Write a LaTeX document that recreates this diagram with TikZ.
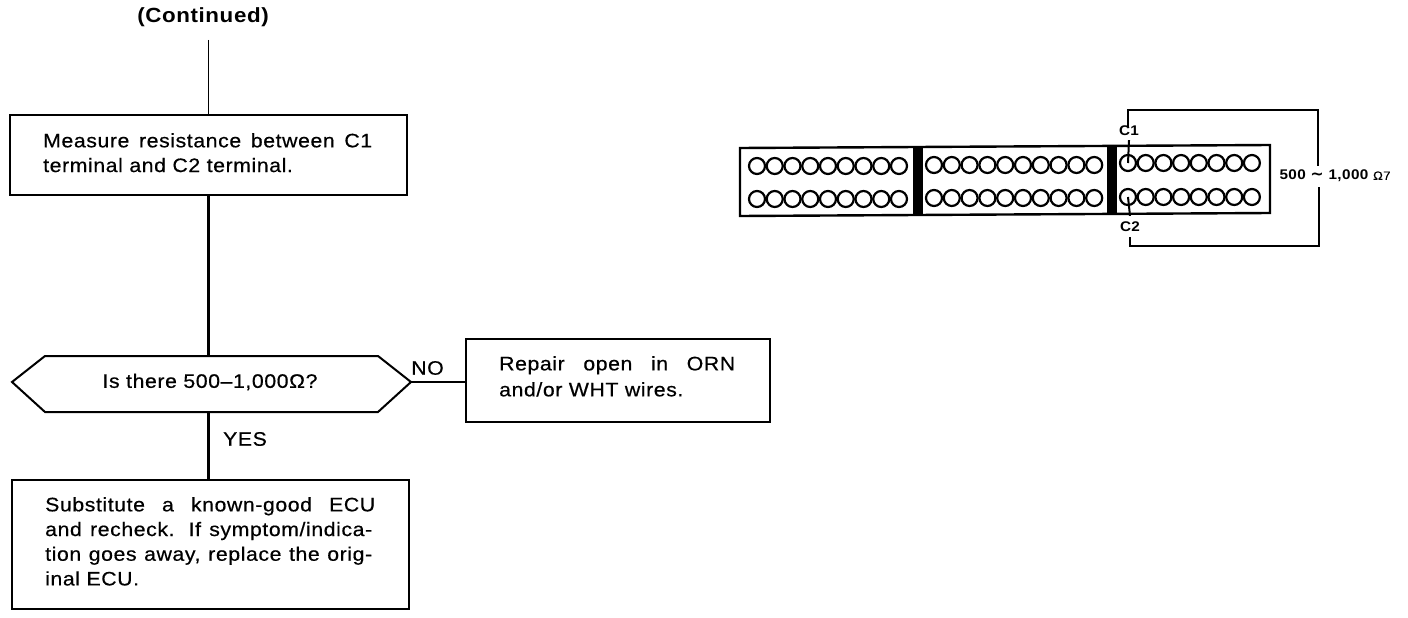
\documentclass[tikz,border=0pt]{standalone}
\usepackage{fontspec}
\setmainfont[LetterSpace=3,FakeStretch=1.09,UprightFeatures={FakeBold=0.5}]{Liberation Sans}
\newfontfamily\tildefont{DejaVu Sans}
\tikzset{
  box/.style={draw,line width=2pt,inner sep=0pt,outer sep=0pt,anchor=north west},
  flow/.style={line width=2.6pt},
  thin flow/.style={line width=1.3pt},
  txt/.style={inner sep=0pt,align=left,font=\fontsize{19.5}{24.7}\selectfont,anchor=north west},
  lab/.style={inner sep=0pt,font=\fontsize{19.5}{20}\selectfont},
  pin/.style={draw,circle,line width=2.2pt,minimum size=16pt,inner sep=0pt},
  wire/.style={line width=2pt},
  tag/.style={inner sep=0pt,font=\bfseries\fontsize{14}{14}\selectfont},
}
\newcommand{\fitline}[2]{\makebox[#1pt][s]{#2}}
\begin{document}
\begin{tikzpicture}[x=1pt,y=-1pt]
\useasboundingbox (0,0) rectangle (1408,618);
% flowchart
\node[inner sep=0pt,font=\bfseries\fontsize{20.5}{21}\selectfont] (cont) at (203,17) {(Continued)};
\coordinate (top) at (208.5,40);
\node[box,minimum width=397pt,minimum height=80pt] (b1) at (9.5,115) {};
\node[txt] (t1) at (43,133) {\fitline{329}{Measure resistance between C1}\\terminal and C2 terminal.};
\node[minimum width=399pt,minimum height=56pt,inner sep=0pt,outer sep=0pt] (d) at (211.5,384) {};
\coordinate (dw) at ([yshift=2pt]d.west);
\coordinate (de) at ([yshift=2pt]d.east);
\draw[line width=2pt] (dw) -- ([xshift=33pt]d.north west) -- ([xshift=-33pt]d.north east) -- (de) -- ([xshift=-33pt]d.south east) -- ([xshift=33pt]d.south west) -- cycle;
\node[lab] (dt) at (210,382) {Is there 500–1,000Ω?};
\node[box,minimum width=304pt,minimum height=83pt] (b2) at (465.5,339) {};
\node[txt,font=\fontsize{19.5}{26}\selectfont] (t2) at (499,356) {\fitline{236}{Repair open in ORN}\\and/or WHT wires.};
\node[box,minimum width=396.5pt,minimum height=129pt] (b3) at (12,480) {};
\node[txt] (t3) at (45,497) {\fitline{330}{Substitute a known-good ECU}\\\fitline{327}{and recheck. If symptom/indica-}\\\fitline{327}{tion goes away, replace the orig-}\\inal ECU.};
\node[lab] (no) at (427.5,368) {NO};
\node[lab] (yes) at (245,439) {YES};
\draw[thin flow] (top) -- (b1.north -| top);
\draw[flow] (b1.south -| top) -- (d.north -| top);
\draw[thin flow] (de) -- (b2.west |- de);
\draw[flow] (d.south -| top) -- (b3.north -| top);
% connector
\draw[line width=2.4pt] (740,148) -- (1270,145) -- (1270,213) -- (740,216) -- cycle;
\fill (913,147) rectangle (923,215);
\fill (1107,146) rectangle (1117,214);
\foreach \i in {0,...,8} {
  \node[pin] (a\i) at (757+17.75*\i,166) {};
  \node[pin] (e\i) at (757+17.75*\i,199) {};
}
\foreach \i in {0,...,9} {
  \node[pin] (m\i) at (934+17.8*\i,165) {};
  \node[pin] (n\i) at (934+17.8*\i,198) {};
}
\foreach \i in {0,...,7} {
  \node[pin] (r\i) at (1128+17.7*\i,163) {};
  \node[pin] (s\i) at (1128+17.7*\i,197) {};
}
\node[tag] (c1) at (1129,131) {C1};
\node[tag] (c2) at (1130,227) {C2};
\node[inner sep=0pt,font=\bfseries\fontsize{14}{14}\selectfont] (val) at (1335,176) {500 {\tildefont\fontsize{16}{14}\selectfont\bfseries ∼} 1,000 {\mdseries\fontsize{12}{14}\selectfont Ω7}};
\draw[wire] ([xshift=-1pt,yshift=-1pt]c1.north) |- (1318,110) -- (1318,166);
\draw[wire] (1319,187) -- (1319,246) -| ([yshift=-5pt]c2.south);
\draw[wire] ([yshift=-4pt]c1.south) -- (r0.center);
\draw[wire] (s0.center) -- ([yshift=6pt]c2.north);
\end{tikzpicture}
\end{document}
